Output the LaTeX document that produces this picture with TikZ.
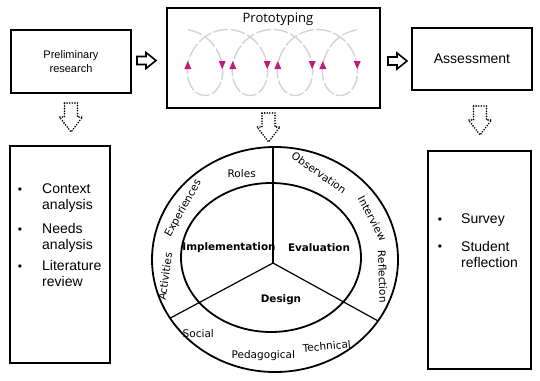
\documentclass[tikz,border=0pt]{standalone}
\usepackage{fontspec}
\setmainfont{Liberation Sans}
\newfontfamily\dvfont{DejaVu Sans}
\newfontfamily\opfont{Open Sans}
\definecolor{spiralgray}{HTML}{D6D2CE}
\definecolor{mag}{HTML}{C4177F}
\tikzset{
  box/.style={draw, line width=1.8pt, inner sep=0pt},
  ring/.style={draw, line width=1.8pt},
  spoke/.style={draw, line width=1.2pt},
  spiral/.style={draw=spiralgray, line width=1.4pt, dash pattern=on 15pt off 2.5pt},
  listtxt/.style={font=\fontsize{14}{16}\selectfont, align=left, anchor=base west, inner sep=0pt},
  bul/.style={font=\fontsize{12}{16}\selectfont, anchor=base, inner sep=0pt},
  lab/.style={font=\dvfont\fontsize{10.5}{12}\selectfont, inner sep=0pt},
  blab/.style={font=\dvfont\bfseries\fontsize{10.4}{12}\selectfont, inner sep=0pt},
  rarrow/.pic={\draw[line width=1.6pt, line join=miter] (0,-4) -- (9,-4) -- (9,-8) -- (19,0) -- (9,8) -- (9,4) -- (0,4) -- cycle;},
  darrow/.pic={\draw[line width=1.8pt, line cap=round, dash pattern=on 0pt off 2.6pt] (-6.5,0) -- (6.5,0) -- (6.5,14) -- (11.5,14) -- (0,29) -- (-11.5,14) -- (-6.5,14) -- cycle;}
}
\begin{document}
\begin{tikzpicture}[x=1pt,y=-1pt]
\useasboundingbox (0,0) rectangle (540,380);

% top boxes
\node[box, minimum width=120pt, minimum height=63pt, align=center, font=\fontsize{11}{14.5}\selectfont] (prelim) at (71,61.5) {Preliminary\\research};
\node[box, minimum width=213pt, minimum height=100pt] (proto) at (273.5,58) {};
\node[font=\opfont\fontsize{13}{15}\selectfont, inner sep=0pt] (prototitle) at (278,19) {Prototyping};
\node[box, minimum width=120pt, minimum height=62pt, font=\fontsize{14}{16}\selectfont] (assess) at (472,59) {Assessment};

% spiral
\draw[spiral] plot[domain=0.15:25.0, samples=400, smooth, variable=\t] ({182.5 + 7.162*\t + 28*sin(\t r)}, {62.5 - 33*cos(\t r)});
\foreach \n in {0,1,2,3} {
  \fill[mag] ({187.8+45*\n-3.5},69) -- ({187.8+45*\n+3.5},69) -- ({187.8+45*\n},61) -- cycle;
  \fill[mag] ({222.2+45*\n-3.5},61) -- ({222.2+45*\n+3.5},61) -- ({222.2+45*\n},69) -- cycle;
}

% block arrows
\pic at (137,60.5) {rarrow};
\pic at (388,61) {rarrow};
\pic at (71,103) {darrow};
\pic at (268.5,113) {darrow};
\pic at (480,106) {darrow};

% lower boxes
\node[box, minimum width=100pt, minimum height=217pt] (leftbox) at (60,254.5) {};
\node[box, minimum width=103pt, minimum height=218pt] (rightbox) at (479.5,260) {};

% left list (base anchor = last line's baseline)
\node[bul] (lb1) at (20,193.5) {•};
\node[listtxt] (ctx) at (42,209.5) {Context\\analysis};
\node[bul] (lb2) at (20,233) {•};
\node[listtxt] (needs) at (42,249) {Needs\\analysis};
\node[bul] (lb3) at (20,270.5) {•};
\node[listtxt] (lit) at (42,286.5) {Literature\\review};

% right list
\node[bul] (rb1) at (440,223) {•};
\node[listtxt] (survey) at (461,223) {Survey};
\node[bul] (rb2) at (440,250.5) {•};
\node[listtxt] (student) at (461,267) {Student\\reflection};

% circle diagram
\coordinate (hub) at (273,263);
\begin{scope}
  \clip (275,259.5) ellipse [x radius=123, y radius=112.5];
  \draw[spoke] (hub) -- ++(0,-150);
  \draw[spoke] (hub) -- ++(-220,118);
  \draw[spoke] (hub) -- ++(214,118);
\end{scope}
\draw[ring] (275,259.5) ellipse [x radius=123, y radius=112.5];
\draw[ring] (271,257.5) ellipse [x radius=90, y radius=74.5];

\node[lab] (roles) at (241.7,173.3) {Roles};
\node[lab, rotate=61] (exper) at (183.3,208.3) {Experiences};
\node[lab, rotate=82] (activ) at (165,276.7) {Activities};
\node[lab, rotate=-35] (obs) at (319,172.7) {Observation};
\node[lab, rotate=-62] (interv) at (372.3,218.3) {Interview};
\node[lab, rotate=-88] (refl) at (382.7,276.7) {Reflection};
\node[lab] (social) at (198.3,334) {Social};
\node[lab] (pedag) at (263.3,356) {Pedagogical};
\node[lab, rotate=5] (techn) at (326.7,346) {Technical};

\node[blab] (impl) at (229,247.7) {Implementation};
\node[blab] (evalu) at (319,247.7) {Evaluation};
\node[blab] (design) at (281,299.3) {Design};
\end{tikzpicture}
\end{document}
